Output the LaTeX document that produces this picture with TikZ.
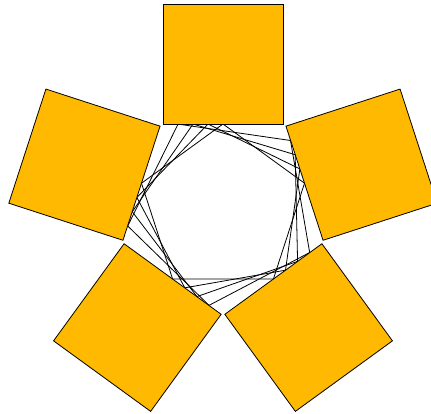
\documentclass[tikz,border=0pt]{standalone}
\definecolor{sqfill}{RGB}{255,185,0}
\tikzset{
  sqbox/.style={fill=sqfill,draw=black,line width=0.8pt,line join=miter},
  webline/.style={draw=black,line width=0.8pt}
}
\begin{document}
\begin{tikzpicture}[x=1pt,y=1pt]
\useasboundingbox (-223,-204.3) rectangle (208,209.7);
% inscribed pentagons (string web)
\foreach \t in {0.125,0.25,0.375,0.5}{
  \pgfmathsetmacro\xx{-60+120*\t}
  \pgfmathsetmacro\rr{veclen(\xx,85.7)}
  \pgfmathsetmacro\aa{atan2(85.7,\xx)}
  \draw[webline] (\aa:\rr) -- (\aa-72:\rr) -- (\aa-144:\rr) -- (\aa-216:\rr) -- (\aa-288:\rr) -- cycle;
}
% squares
\foreach \k in {0,...,4}{
  \begin{scope}[rotate=72*\k]
    \path[sqbox] (-60,85.7) rectangle (60,205.7);
  \end{scope}
}
\end{tikzpicture}
\end{document}
